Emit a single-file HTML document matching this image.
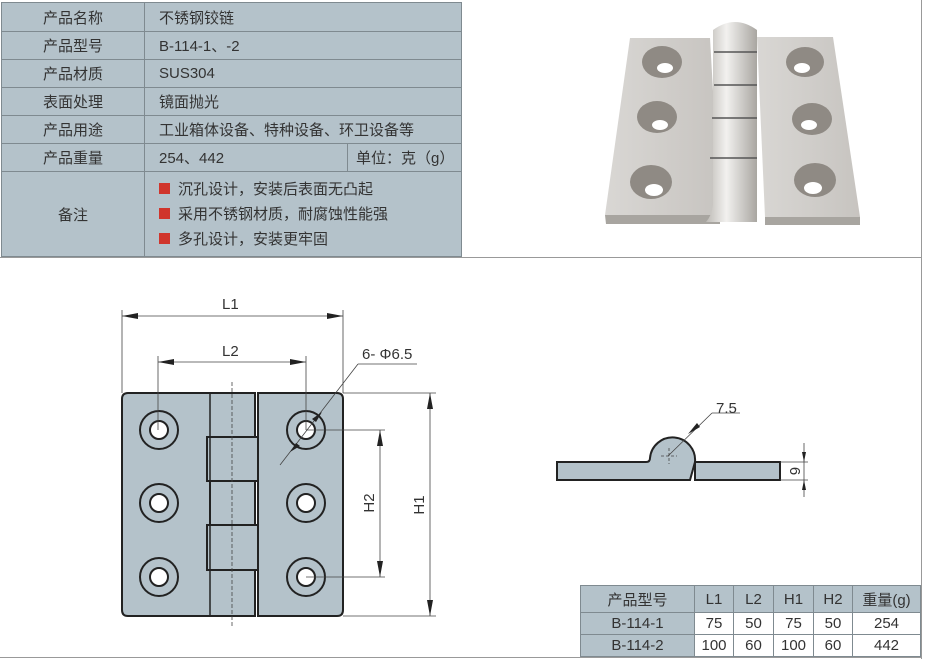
<!DOCTYPE html><html><head><meta charset="utf-8"><style>
body{margin:0;width:925px;height:661px;background:#fff;position:relative;overflow:hidden;font-family:"Liberation Sans","Noto Sans CJK SC",sans-serif;color:#333}
table{border-collapse:collapse;position:absolute}
td{border:1px solid #7f8a90;font-size:15px;padding:0}
.g{background:#b4c2ca}
</style></head><body>
<table style="left:1px;top:2px;width:461px">
<tr style="height:29px"><td class="g" style="width:142px;text-align:center">产品名称</td><td class="g" colspan="2" style="padding-left:14px">不锈钢铰链</td></tr>
<tr style="height:28px"><td class="g" style="text-align:center">产品型号</td><td class="g" colspan="2" style="padding-left:14px">B-114-1、-2</td></tr>
<tr style="height:28px"><td class="g" style="text-align:center">产品材质</td><td class="g" colspan="2" style="padding-left:14px">SUS304</td></tr>
<tr style="height:28px"><td class="g" style="text-align:center">表面处理</td><td class="g" colspan="2" style="padding-left:14px">镜面抛光</td></tr>
<tr style="height:28px"><td class="g" style="text-align:center">产品用途</td><td class="g" colspan="2" style="padding-left:14px">工业箱体设备、特种设备、环卫设备等</td></tr>
<tr style="height:28px"><td class="g" style="text-align:center">产品重量</td><td class="g" style="padding-left:14px;width:188px">254、442</td><td class="g" style="padding-left:8px">单位：克（g）</td></tr>
<tr style="height:85px"><td class="g" style="text-align:center">备注</td><td class="g" colspan="2" style="padding-left:14px;line-height:25px">
<div><span style="display:inline-block;width:11px;height:11px;background:#d0352c;margin-right:8px"></span>沉孔设计，安装后表面无凸起</div>
<div><span style="display:inline-block;width:11px;height:11px;background:#d0352c;margin-right:8px"></span>采用不锈钢材质，耐腐蚀性能强</div>
<div><span style="display:inline-block;width:11px;height:11px;background:#d0352c;margin-right:8px"></span>多孔设计，安装更牢固</div></td></tr>
</table>
<div style="position:absolute;left:0;top:257px;width:922px;height:1px;background:#999"></div>
<div style="position:absolute;left:921px;top:0;width:1px;height:659px;background:#999"></div>
<div style="position:absolute;left:0;top:657px;width:922px;height:1px;background:#999"></div>
<svg width="925" height="661" style="position:absolute;left:0;top:0" font-family="Liberation Sans, sans-serif">
<defs><linearGradient id="m" x1="0" x2="1"><stop offset="0" stop-color="#d9d7d4"/><stop offset="1" stop-color="#c7c4c0"/></linearGradient>
<linearGradient id="k" x1="0" x2="1"><stop offset="0" stop-color="#bdbab5"/><stop offset=".4" stop-color="#f2f1ef"/><stop offset="1" stop-color="#a9a6a1"/></linearGradient></defs>
<polygon points="630,38 710,38 720,215 605,215" fill="url(#m)"/>
<polygon points="605,215 720,215 720,224 606,224" fill="#a8a5a0"/>
<polygon points="757,37 833,37 860,217 765,217" fill="url(#m)"/>
<polygon points="765,217 860,217 860,225 765,225" fill="#a8a5a0"/>
<path d="M713,30 Q735,14 757,30 L757,222 L706,222 Q712,215 713,205 Z" fill="url(#k)"/>
<g stroke="#555" stroke-width="1.5"><line x1="714" y1="52" x2="757" y2="52"/><line x1="714" y1="85" x2="757" y2="85"/><line x1="712" y1="118" x2="757" y2="118"/><line x1="710" y1="158" x2="757" y2="158"/></g>
<g fill="#8f8a84"><ellipse cx="662" cy="62" rx="20" ry="16"/><ellipse cx="657" cy="117" rx="20" ry="16"/><ellipse cx="651" cy="182" rx="21" ry="17"/><ellipse cx="805" cy="62" rx="19" ry="15"/><ellipse cx="812" cy="119" rx="20" ry="16"/><ellipse cx="815" cy="180" rx="21" ry="17"/></g>
<g fill="#fff"><ellipse cx="665" cy="68" rx="8" ry="5"/><ellipse cx="660" cy="125" rx="8" ry="5"/><ellipse cx="654" cy="190" rx="9" ry="6"/><ellipse cx="802" cy="68" rx="8" ry="5"/><ellipse cx="809" cy="125" rx="8" ry="5"/><ellipse cx="813" cy="188" rx="9" ry="6"/></g>
<g stroke="#222" stroke-width="2" fill="#b4c2ca">
<path d="M128,393 H255 V616 H128 Q122,616 122,610 V399 Q122,393 128,393 Z"/>
<path d="M258,393 H337 Q343,393 343,399 V610 Q343,616 337,616 H258 Z"/>
<rect x="207" y="437" width="51" height="44"/><rect x="210" y="481" width="45" height="44"/><rect x="207" y="525" width="51" height="45"/>
</g>
<line x1="210" y1="393" x2="210" y2="616" stroke="#222" stroke-width="1.5"/>
<line x1="232" y1="382" x2="232" y2="628" stroke="#444" stroke-dasharray="4,2" stroke-width="0.8"/>
<g stroke="#222" stroke-width="2"><g fill="#b4c2ca"><circle cx="159" cy="430" r="19"/><circle cx="159" cy="503" r="19"/><circle cx="159" cy="577" r="19"/><circle cx="306" cy="430" r="19"/><circle cx="306" cy="503" r="19"/><circle cx="306" cy="577" r="19"/></g>
<g fill="#fff"><circle cx="159" cy="430" r="9"/><circle cx="159" cy="503" r="9"/><circle cx="159" cy="577" r="9"/><circle cx="306" cy="430" r="9"/><circle cx="306" cy="503" r="9"/><circle cx="306" cy="577" r="9"/></g></g>
<g stroke="#444" stroke-width="0.8" fill="none">
<line x1="122" y1="310" x2="122" y2="393"/><line x1="343" y1="310" x2="343" y2="393"/>
<line x1="158" y1="356" x2="158" y2="430"/><line x1="306" y1="356" x2="306" y2="430"/>
<line x1="122" y1="316" x2="343" y2="316"/><line x1="158" y1="362" x2="306" y2="362"/>
<line x1="343" y1="393" x2="436" y2="393"/><line x1="343" y1="616" x2="436" y2="616"/>
<line x1="306" y1="430" x2="385" y2="430"/><line x1="306" y1="577" x2="385" y2="577"/>
<line x1="430" y1="393" x2="430" y2="616"/><line x1="380" y1="430" x2="380" y2="577"/>
<line x1="280" y1="465" x2="358" y2="364"/><line x1="358" y1="364" x2="417" y2="364"/>
</g>
<g fill="#222"><polygon points="122,316 138,313 138,319"/><polygon points="343,316 327,313 327,319"/><polygon points="158,362 174,359 174,365"/><polygon points="306,362 290,359 290,365"/>
<polygon points="430,393 427,409 433,409"/><polygon points="430,616 427,600 433,600"/><polygon points="380,430 377,446 383,446"/><polygon points="380,577 377,561 383,561"/>
<polygon points="322,412 316,422 312,419"/><polygon points="290,452 296,443 300,446"/></g>
<g font-size="15" fill="#333"><text x="222" y="309">L1</text><text x="222" y="356">L2</text><text x="362" y="359">6- Φ6.5</text>
<text transform="translate(424,505) rotate(-90)" text-anchor="middle">H1</text><text transform="translate(374,503) rotate(-90)" text-anchor="middle">H2</text>
<text x="716" y="413">7.5</text><text transform="translate(790,471) rotate(90)" text-anchor="middle">6</text></g>
<g stroke="#222" stroke-width="2" fill="#b4c2ca">
<path d="M557,462 H646 Q650,462 650,458 A22,22 0 1 1 695,462 L690,480 H672 Q666,480 666,480 L557,480 Z"/>
<rect x="695" y="462" width="85" height="18"/>
</g>
<line x1="695" y1="462" x2="690" y2="480" stroke="#222" stroke-width="1.5"/>
<g stroke="#444" stroke-width="0.8" fill="none"><line x1="668" y1="456" x2="712" y2="413"/><line x1="712" y1="413" x2="740" y2="413"/>
<line x1="780" y1="462" x2="808" y2="462"/><line x1="780" y1="480" x2="808" y2="480"/><line x1="804" y1="443" x2="804" y2="497"/>
<line x1="661" y1="456" x2="677" y2="456" stroke-dasharray="3,2"/><line x1="669" y1="448" x2="669" y2="464" stroke-dasharray="3,2"/></g>
<g fill="#222"><polygon points="688,434 697,423 700,427"/><polygon points="804,462 802,452 806,452"/><polygon points="804,480 802,490 806,490"/></g>
</svg>
<table style="left:580px;top:585px;width:341px;text-align:center">
<tr style="height:27px" class="g"><td style="width:113px">产品型号</td><td style="width:38px">L1</td><td style="width:39px">L2</td><td style="width:39px">H1</td><td style="width:38px">H2</td><td>重量(g)</td></tr>
<tr style="height:22px"><td class="g">B-114-1</td><td>75</td><td>50</td><td>75</td><td>50</td><td>254</td></tr>
<tr style="height:22px"><td class="g">B-114-2</td><td>100</td><td>60</td><td>100</td><td>60</td><td>442</td></tr>
</table>
</body></html>
